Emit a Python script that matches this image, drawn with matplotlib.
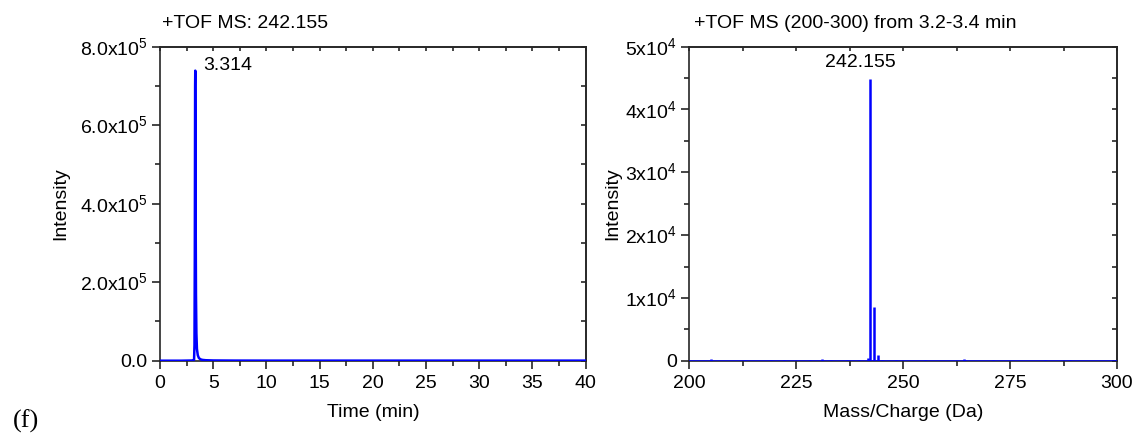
import matplotlib
matplotlib.use("Agg")
import matplotlib.pyplot as plt
from matplotlib.ticker import MultipleLocator, FixedLocator

plt.rcParams['font.family'] = ['Liberation Sans', 'DejaVu Sans']
plt.rcParams['mathtext.fontset'] = 'custom'
plt.rcParams['mathtext.rm'] = 'Liberation Sans'

# Extracted ion chromatogram, m/z 242.155
time_min = [0.0, 1.0, 2.0, 3.0, 3.20, 3.24, 3.27, 3.29, 3.30, 3.314, 3.33, 3.35,
            3.38, 3.42, 3.47, 3.55, 3.65, 3.80, 4.0, 4.3, 5.0, 7.0, 10.0, 15.0,
            20.0, 25.0, 30.0, 35.0, 40.0]
eic_intensity = [0, 0, 0, 500, 2000, 40000, 260000, 560000, 700000, 739000,
                 620000, 380000, 170000, 70000, 30000, 14000, 7000, 3500, 2000,
                 1200, 600, 300, 200, 200, 200, 200, 200, 200, 200]
eic_peak_time = 3.314

# Mass spectrum averaged over 3.2-3.4 min
mz = [205.1, 213.0, 219.2, 222.1, 228.3, 231.0, 233.2, 236.9, 239.6, 241.8,
      242.155, 243.16, 244.16, 245.1, 248.3, 255.0, 264.2, 264.5, 271.0,
      283.1, 289.0]
ms_intensity = [200, 80, 90, 100, 120, 250, 90, 120, 100, 450, 44800, 8500,
                900, 150, 100, 80, 350, 150, 70, 90, 60]
base_peak_mz = 242.155

eic_yticks = [0, 2e5, 4e5, 6e5, 8e5]
eic_yticklabels = ['0.0', r'2.0x10$^{5}$', r'4.0x10$^{5}$', r'6.0x10$^{5}$', r'8.0x10$^{5}$']
ms_yticks = [0, 1e4, 2e4, 3e4, 4e4, 5e4]
ms_yticklabels = ['0', r'1x10$^{4}$', r'2x10$^{4}$', r'3x10$^{4}$', r'4x10$^{4}$', r'5x10$^{4}$']

blue = '#0000ff'
ink = '#262626'
fs = 14

W, H = 1138, 437
fig = plt.figure(figsize=(W / 100, H / 100), dpi=100)
bottom, height = 1 - 360.7 / H, 314.0 / H
ax1 = fig.add_axes([160 / W, bottom, 425.7 / W, height])
ax2 = fig.add_axes([689.3 / W, bottom, 427.7 / W, height])

# Left panel: chromatogram
ax1.plot(time_min, eic_intensity, color=blue, lw=1.8, zorder=3)
ax1.set_xlim(0, 40)
ax1.set_ylim(0, 8e5)
ax1.xaxis.set_major_locator(MultipleLocator(5))
ax1.xaxis.set_minor_locator(MultipleLocator(2.5))
ax1.yaxis.set_major_locator(FixedLocator(eic_yticks))
ax1.yaxis.set_minor_locator(MultipleLocator(1e5))
ax1.set_yticklabels(eic_yticklabels)
ax1.set_xlabel('Time (min)', fontsize=fs, va='center')
ax1.set_ylabel('Intensity', fontsize=fs, va='center')
ax1.xaxis.set_label_coords(0.5, -52 / 314)
ax1.yaxis.set_label_coords((61 - 160) / 425.7, 0.5)
ax1.text(0.005, 1 + 22.7 / 314, '+TOF MS: 242.155', transform=ax1.transAxes,
         fontsize=fs, ha='left', va='center')
ax1.text(4.04, 7.53e5, f'{eic_peak_time:.3f}',
         fontsize=fs, ha='left', va='center')

# Right panel: mass spectrum
ax2.axhline(0, color=blue, lw=1.8, zorder=3)
ax2.vlines(mz, 0, ms_intensity, color=blue, lw=1.8, zorder=3)
ax2.set_xlim(200, 300)
ax2.set_ylim(0, 5e4)
ax2.xaxis.set_major_locator(MultipleLocator(25))
ax2.xaxis.set_minor_locator(MultipleLocator(12.5))
ax2.yaxis.set_major_locator(FixedLocator(ms_yticks))
ax2.yaxis.set_minor_locator(MultipleLocator(5e3))
ax2.set_yticklabels(ms_yticklabels)
ax2.set_xlabel('Mass/Charge (Da)', fontsize=fs, va='center')
ax2.set_ylabel('Intensity', fontsize=fs, va='center')
ax2.xaxis.set_label_coords(0.5, -52 / 314)
ax2.yaxis.set_label_coords((613 - 689.3) / 427.7, 0.5)
ax2.text(0.01, 1 + 22.7 / 314, '+TOF MS (200-300) from 3.2-3.4 min',
         transform=ax2.transAxes, fontsize=fs, ha='left', va='center')
ax2.text(239.9, 4.756e4, f'{base_peak_mz:.3f}',
         fontsize=fs, ha='center', va='center')

for ax in (ax1, ax2):
    for s in ax.spines.values():
        s.set_linewidth(1.2)
        s.set_color(ink)
    ax.tick_params(axis='x', which='both', labelsize=fs, direction='out',
                   top=False, color=ink, pad=4)
    ax.tick_params(axis='y', which='both', labelsize=fs, direction='out',
                   left=True, right=False, color=ink, pad=3)
    ax.tick_params(which='major', length=6, width=1.2)
    ax.tick_params(which='minor', length=3.5, width=1.2)
    # inward ticks on the right and top spines
    sec_y = ax.secondary_yaxis('right')
    sec_y.yaxis.set_major_locator(FixedLocator(ax.get_yticks()))
    sec_y.yaxis.set_minor_locator(ax.yaxis.get_minor_locator())
    sec_y.tick_params(which='both', direction='in', labelright=False,
                      color=ink, width=1.2, length=3.5)
    sec_y.spines['right'].set_linewidth(1.2)
    sec_y.spines['right'].set_color(ink)
    sec_x = ax.secondary_xaxis('top')
    sec_x.xaxis.set_major_locator(ax.xaxis.get_major_locator())
    sec_x.xaxis.set_minor_locator(ax.xaxis.get_minor_locator())
    sec_x.tick_params(which='both', direction='in', labeltop=False,
                      color=ink, width=1.2, length=3)
    sec_x.spines['top'].set_linewidth(1.2)
    sec_x.spines['top'].set_color(ink)

fig.text(26.5 / W, 1 - 421.7 / H, '(f)', fontsize=19, family='Liberation Serif',
         ha='center', va='center')

fig.savefig('out.png', dpi=100)
